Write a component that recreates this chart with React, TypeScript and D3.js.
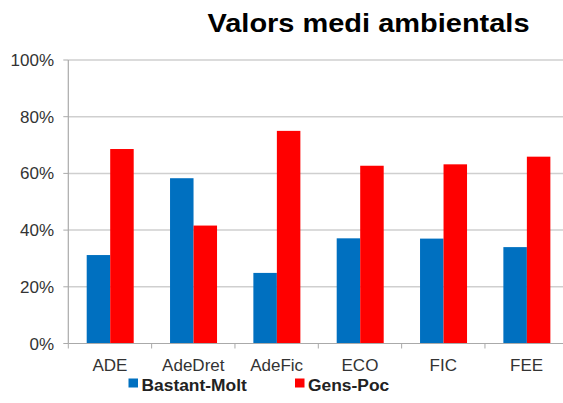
import React from "react";
import * as d3 from "d3";

const categories = ["ADE", "AdeDret", "AdeFic", "ECO", "FIC", "FEE"];
const seriesNames = ["Bastant-Molt", "Gens-Poc"];
const bastantMolt = [0.312, 0.583, 0.249, 0.371, 0.37, 0.34];
const gensPoc = [0.686, 0.416, 0.75, 0.627, 0.632, 0.659];
const yTicks = [0, 0.2, 0.4, 0.6, 0.8, 1.0];
const colors = ["#0070C0", "#FF0000"];
const title = "Valors medi ambientals";

export default function App() {
  const W = 563, H = 403;
  const left = 68.3, right = 568.3, top = 60, bottom = 343.5;
  const x = d3.scaleBand<string>().domain(categories).range([left, right]).paddingInner(0).paddingOuter(0);
  const y = d3.scaleLinear().domain([0, 1]).range([bottom, top]);
  const inner = d3.scaleBand<string>().domain(seriesNames).range([18.4, 18.4 + 47]);
  const series = [bastantMolt, gensPoc];
  const font = "Liberation Sans, Arial, sans-serif";
  return (
    <svg width={W} height={H} style={{ position: "absolute", left: 0, top: 0 }} fontFamily={font}>
      <rect width={W} height={H} fill="#fff" />
      <text x={207.5} y={32} fontSize={26} fontWeight="bold" fill="#000" textLength={322} lengthAdjust="spacingAndGlyphs">{title}</text>
      {yTicks.map((t) => (
        <g key={t}>
          {t > 0 && <line x1={left} x2={right} y1={y(t)} y2={y(t)} stroke="#cfcfcf" strokeWidth={1.5} />}
          <line x1={left - 5} x2={left} y1={y(t)} y2={y(t)} stroke="#aaa" strokeWidth={1} />
          <text x={54} y={y(t) + 6} textAnchor="end" fontSize={17} fill="#333">{d3.format(".0%")(t)}</text>
        </g>
      ))}
      <line x1={left} x2={left} y1={top} y2={bottom} stroke="#aaa" strokeWidth={1.2} />
      {series.map((vals, si) =>
        categories.map((c, i) => (
          <rect key={si + "-" + c} x={(x(c) as number) + (inner(seriesNames[si]) as number)} width={inner.bandwidth()} y={y(vals[i])} height={bottom - y(vals[i])} fill={colors[si]} />
        ))
      )}
      <line x1={left} x2={right} y1={bottom} y2={bottom} stroke="#aaa" strokeWidth={1.2} />
      {categories.map((c) => (
        <line key={"t" + c} x1={x(c) as number} x2={x(c) as number} y1={bottom} y2={bottom + 5} stroke="#aaa" strokeWidth={1} />
      ))}
      {categories.map((c) => (
        <text key={"l" + c} x={(x(c) as number) + x.bandwidth() / 2} y={371} textAnchor="middle" fontSize={17} fill="#333">{c}</text>
      ))}
      <rect x={128.5} y={378.5} width={9.5} height={9} fill={colors[0]} />
      <text x={141.5} y={390.5} fontSize={17.4} fontWeight="bold" fill="#222">{seriesNames[0]}</text>
      <rect x={295} y={378.5} width={9.5} height={9} fill={colors[1]} />
      <text x={308} y={390.5} fontSize={17.4} fontWeight="bold" fill="#222">{seriesNames[1]}</text>
    </svg>
  );
}
